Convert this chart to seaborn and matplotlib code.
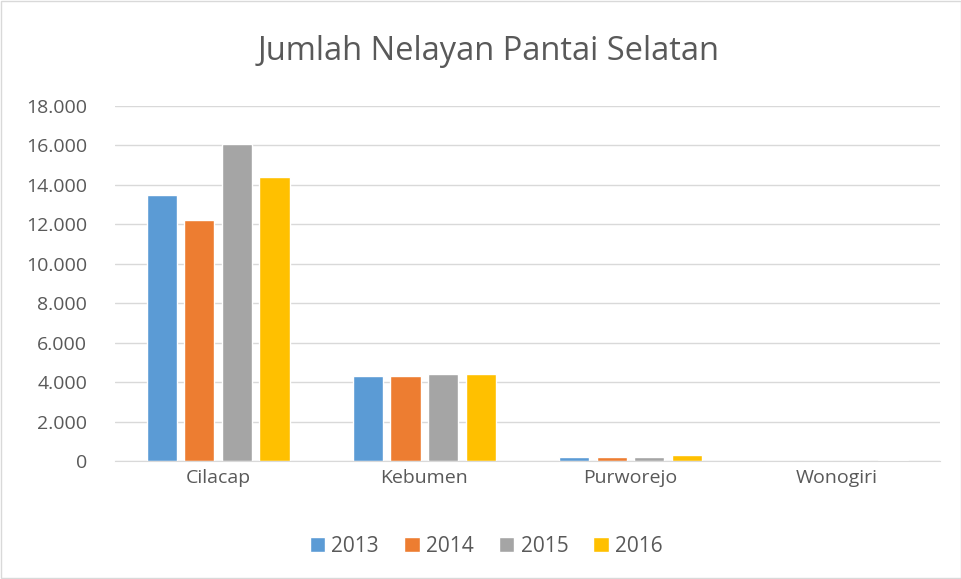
import pandas as pd
import numpy as np
import seaborn as sns
import matplotlib.pyplot as plt
from matplotlib.ticker import FuncFormatter
from matplotlib.patches import Rectangle

# Data
regions = ['Cilacap', 'Kebumen', 'Purworejo', 'Wonogiri']
years = ['2013', '2014', '2015', '2016']
v2013 = [13500, 4300, 200, 10]
v2014 = [12200, 4300, 190, 10]
v2015 = [16070, 4390, 200, 10]
v2016 = [14390, 4390, 300, 70]

colors = ['#5B9BD5', '#ED7D31', '#A5A5A5', '#FFC000']

df = pd.DataFrame({
    'Wilayah': regions * 4,
    'Tahun': [y for y in years for _ in regions],
    'Jumlah': v2013 + v2014 + v2015 + v2016,
})

sns.set_style('white')
plt.rcParams['font.family'] = ['Open Sans', 'DejaVu Sans']

fig = plt.figure(figsize=(9.62, 5.79), dpi=100)
ax = fig.add_axes([0.1195, 0.2038, 0.8576, 0.6131])

sns.barplot(data=df, x='Wilayah', y='Jumlah', hue='Tahun', palette=colors,
            saturation=1, width=0.73, gap=0.2, ax=ax, legend=True)

ax.set_ylim(0, 18000)
ax.set_yticks(np.arange(0, 18001, 2000))
ax.yaxis.set_major_formatter(FuncFormatter(lambda v, p: f'{int(v):,}'.replace(',', '.')))
ax.grid(axis='y', color='#D9D9D9', linewidth=1)
ax.set_axisbelow(True)
for s in ['top', 'right', 'left']:
    ax.spines[s].set_visible(False)
ax.spines['bottom'].set_color('#D9D9D9')
ax.tick_params(axis='both', length=0, labelsize=14, colors='#595959')
ax.tick_params(axis='y', pad=20)
ax.tick_params(axis='x', pad=6)
ax.set_xlabel('')
ax.set_ylabel('')

fig.suptitle('Jumlah Nelayan Pantai Selatan', x=0.508, y=0.94, fontsize=23.5, color='#595959')

ax.legend(loc='center', bbox_to_anchor=(0.45, -0.24), ncol=4, frameon=False,
          fontsize=15, labelcolor='#595959', handlelength=0.75, handleheight=0.75,
          handletextpad=0.3, columnspacing=1.2)

fig.patches.append(Rectangle((0.001, 0.002), 0.998, 0.996, transform=fig.transFigure,
                             fill=False, edgecolor='#D9D9D9', linewidth=1))

plt.savefig('out.png', dpi=100)
